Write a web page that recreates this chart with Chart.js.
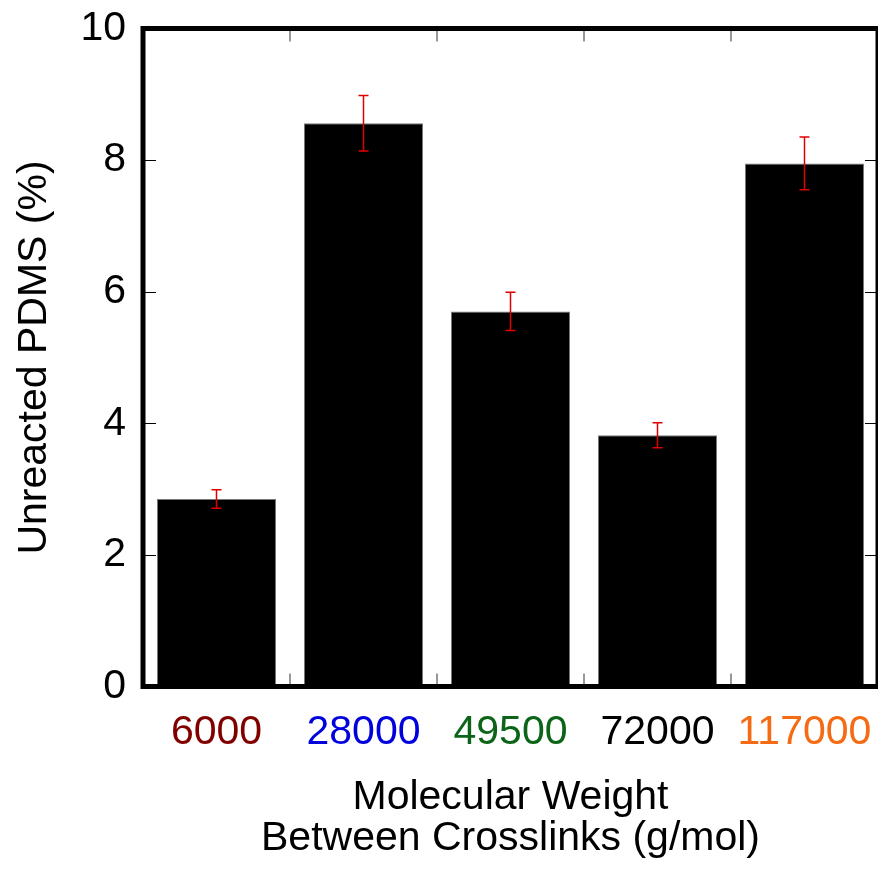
<!DOCTYPE html>
<html>
<head>
<meta charset="utf-8">
<script src="https://cdn.jsdelivr.net/npm/chart.js@4"></script>
<style>
  html, body { margin: 0; padding: 0; background: #fff; }
  #wrap { width: 878px; height: 869px; }
</style>
</head>
<body>
<div id="wrap"><canvas id="pdmsChart" width="878" height="869"></canvas></div>
<script>
// Data
const categories = ['6000', '28000', '49500', '72000', '117000'];
const unreacted = [2.85, 8.56, 5.70, 3.82, 7.95];
const errors = [0.14, 0.42, 0.29, 0.19, 0.40];
const labelColors = ['#800000', '#0000dd', '#0b6418', '#000000', '#f46b14'];
const yTicks = [0, 2, 4, 6, 8, 10];

const FONT = "'Liberation Sans', Arial, sans-serif";

// error bars, inward tick marks and the thick frame (gnuplot look)
const framePlugin = {
    id: 'frame',
    afterDatasetsDraw(chart) {
        const ctx = chart.ctx;
        const y = chart.scales.y;
        const meta = chart.getDatasetMeta(0);

        // error bars
        ctx.save();
        ctx.strokeStyle = '#e00000';
        ctx.lineWidth = 1.5;
        meta.data.forEach((bar, i) => {
            const cx = bar.x;
            const top = y.getPixelForValue(unreacted[i] + errors[i]);
            const bot = y.getPixelForValue(unreacted[i] - errors[i]);
            ctx.beginPath();
            ctx.moveTo(cx, top); ctx.lineTo(cx, bot);
            ctx.moveTo(cx - 5, top); ctx.lineTo(cx + 5, top);
            ctx.moveTo(cx - 5, bot); ctx.lineTo(cx + 5, bot);
            ctx.stroke();
        });
        ctx.restore();
    },
    afterDraw(chart) {
        const ctx = chart.ctx;
        const area = chart.chartArea;
        const x = chart.scales.x;
        const y = chart.scales.y;
        ctx.save();

        // y ticks, left and right, pointing inward
        ctx.strokeStyle = '#000';
        ctx.lineWidth = 1;
        yTicks.slice(1, -1).forEach(v => {
            const py = Math.round(y.getPixelForValue(v)) + 0.5;
            ctx.beginPath();
            ctx.moveTo(area.left, py); ctx.lineTo(area.left + 13, py);
            ctx.moveTo(area.right, py); ctx.lineTo(area.right - 13, py);
            ctx.stroke();
        });

        // x ticks between categories, top and bottom
        ctx.strokeStyle = '#777';
        ctx.lineWidth = 1.5;
        for (let i = 0; i < categories.length - 1; i++) {
            const px = (x.getPixelForValue(i) + x.getPixelForValue(i + 1)) / 2;
            ctx.beginPath();
            ctx.moveTo(px, area.top); ctx.lineTo(px, area.top + 13);
            ctx.moveTo(px, area.bottom); ctx.lineTo(px, area.bottom - 13);
            ctx.stroke();
        }

        // frame
        ctx.strokeStyle = '#000';
        ctx.lineWidth = 5;
        ctx.strokeRect(area.left, area.top, area.right - area.left, area.bottom - area.top);
        ctx.restore();
    }
};

new Chart(document.getElementById('pdmsChart'), {
    type: 'bar',
    data: {
        labels: categories,
        datasets: [{
            data: unreacted,
            backgroundColor: '#000',
            borderColor: '#777',
            borderWidth: 1,
            barPercentage: 0.81,
            categoryPercentage: 1.0
        }]
    },
    options: {
        responsive: false,
        animation: false,
        devicePixelRatio: 1,
        layout: { padding: { top: 28.5, right: 0, left: 0, bottom: 0 } },
        plugins: {
            legend: { display: false },
            tooltip: { enabled: false }
        },
        scales: {
            x: {
                // tick length used only as label offset, grid itself hidden
                grid: { display: false, drawTicks: true, tickLength: 22 },
                border: { display: false },
                ticks: {
                    color: ctx => labelColors[ctx.index],
                    font: { family: FONT, size: 41, lineHeight: 1.2 },
                    padding: 0,
                    maxRotation: 0,
                    autoSkip: false
                },
                title: {
                    display: true,
                    text: ['Molecular Weight', 'Between Crosslinks (g/mol)'],
                    color: '#000',
                    font: { family: FONT, size: 41, lineHeight: 1.0 },
                    padding: { top: 0, bottom: 10 }
                },
                afterFit: scale => { scale.height = 182.5; }
            },
            y: {
                min: 0,
                max: 10,
                grid: { display: false, drawTicks: true, tickLength: 17 },
                border: { display: false },
                ticks: {
                    stepSize: 2,
                    color: '#000',
                    font: { family: FONT, size: 41, lineHeight: 1.2 },
                    padding: 0
                },
                title: {
                    display: true,
                    text: 'Unreacted PDMS (%)',
                    color: '#000',
                    font: { family: FONT, size: 41, lineHeight: 1.2 },
                    padding: { top: 10, bottom: 0 }
                },
                afterFit: scale => { scale.width = 143; }
            }
        }
    },
    plugins: [framePlugin]
});
</script>
</body>
</html>
